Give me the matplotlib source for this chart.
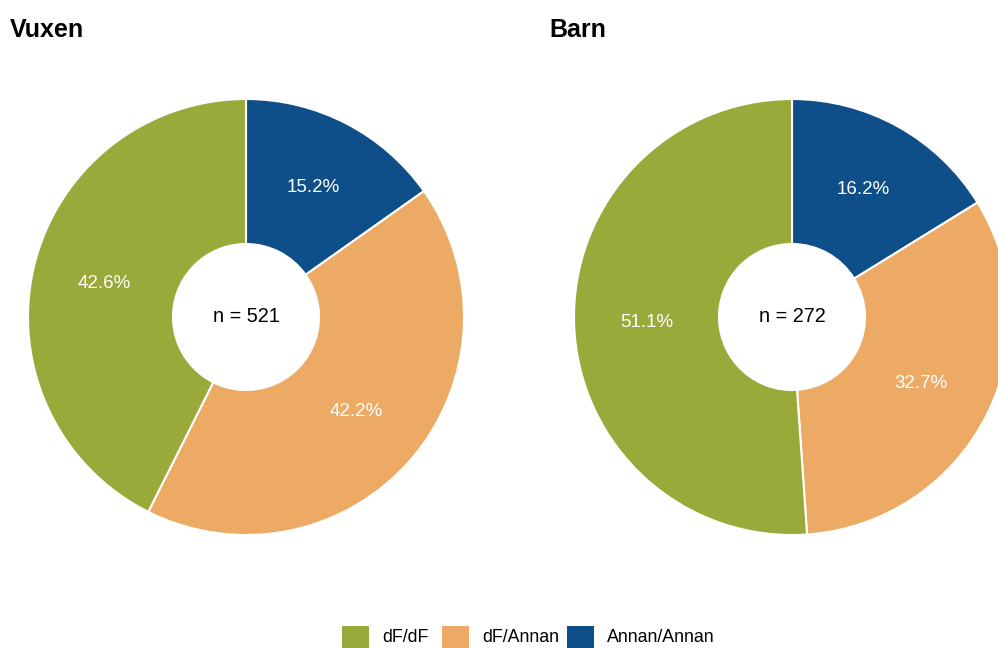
import matplotlib
matplotlib.use("Agg")
import matplotlib.pyplot as plt
from matplotlib.patches import Rectangle

plt.rcParams['font.family'] = ['Liberation Sans', 'DejaVu Sans']

# Data
categories = ["Annan/Annan", "dF/Annan", "dF/dF"]
legend_order = ["dF/dF", "dF/Annan", "Annan/Annan"]
colors = {"dF/dF": "#99A93A", "dF/Annan": "#EDAA65", "Annan/Annan": "#0E4F8A"}

panel_titles = ["Vuxen", "Barn"]
vuxen_pct = [15.2, 42.2, 42.6]
barn_pct = [16.2, 32.7, 51.1]
sample_sizes = [521, 272]

W, H = 998, 648
fig = plt.figure(figsize=(W / 100, H / 100), dpi=100)
ax = fig.add_axes([0, 0, 1, 1])

outer_r = 218
inner_r = 73
centers = [(246, H - 317), (792, H - 317)]
title_x = [10, 549]

for values, center, title, n, tx in zip([vuxen_pct, barn_pct], centers,
                                         panel_titles, sample_sizes, title_x):
    wedges, texts, autotexts = ax.pie(
        values,
        colors=[colors[c] for c in categories],
        startangle=90,
        counterclock=False,
        center=center,
        radius=outer_r,
        autopct='%.1f%%',
        pctdistance=(outer_r + inner_r) / 2 / outer_r,
        wedgeprops=dict(width=outer_r - inner_r, edgecolor='white', linewidth=1.5),
        textprops=dict(color='white', fontsize=13.5),
    )
    ax.text(center[0], center[1], f"n = {n}", ha='center', va='center',
            fontsize=14.3, color='black')
    ax.text(tx, H - 30, title, ha='left', va='center', fontsize=18,
            fontweight='bold', color='black')

# Legend along the bottom edge
legend_x = [342, 442, 567]
for cat, x in zip(legend_order, legend_x):
    ax.add_patch(Rectangle((x, -5), 27, 27, facecolor=colors[cat],
                           edgecolor='none', clip_on=True))
    ax.text(x + 40, H - 638, cat, ha='left', va='center', fontsize=12.8,
            color='black')

ax.set_xlim(0, W)
ax.set_ylim(0, H)
ax.set_aspect('equal')
ax.set_axis_off()

fig.savefig("out.png", dpi=100)
